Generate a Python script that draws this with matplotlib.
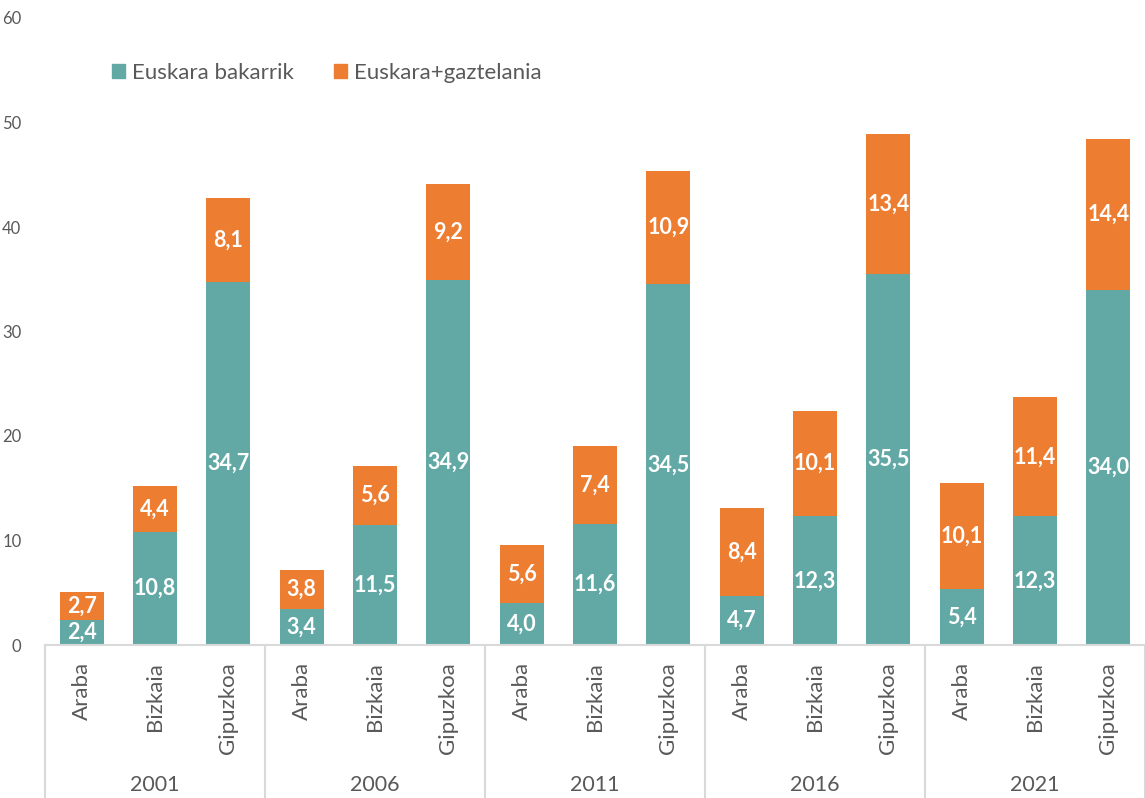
import matplotlib
matplotlib.use("Agg")
import matplotlib.pyplot as plt
from matplotlib.lines import Line2D
from matplotlib.patches import Patch
import numpy as np

plt.rcParams['font.family'] = ['Lato', 'DejaVu Sans']

years = ['2001', '2006', '2011', '2016', '2021']
regions = ['Araba', 'Bizkaia', 'Gipuzkoa']
euskara_bakarrik = [2.4, 10.8, 34.7, 3.4, 11.5, 34.9, 4.0, 11.6, 34.5, 4.7, 12.3, 35.5, 5.4, 12.3, 34.0]
euskara_gaztelania = [2.7, 4.4, 8.1, 3.8, 5.6, 9.2, 5.6, 7.4, 10.9, 8.4, 10.1, 13.4, 10.1, 11.4, 14.4]
series_names = ['Euskara bakarrik', 'Euskara+gaztelania']
yticks = [0, 10, 20, 30, 40, 50, 60]

teal = '#62A9A6'
orange = '#ED7D31'
grey = '#595959'
linec = '#D9D9D9'

W, H = 1145, 798
fig = plt.figure(figsize=(W/100, H/100), dpi=100)
ax = fig.add_axes([45/W, (H-645)/H, 1100/W, (645-18)/H])

x = np.arange(len(euskara_bakarrik))
ax.bar(x, euskara_bakarrik, width=0.6, color=teal, label=series_names[0])
ax.bar(x, euskara_gaztelania, width=0.6, bottom=euskara_bakarrik, color=orange, label=series_names[1])

fmt = lambda v: f"{v:.1f}".replace('.', ',')
for xi, a, b in zip(x, euskara_bakarrik, euskara_gaztelania):
    ax.text(xi, a/2, fmt(a), ha='center', va='center', color='white', fontsize=15.5, fontweight='bold')
    ax.text(xi, a + b/2, fmt(b), ha='center', va='center', color='white', fontsize=15.5, fontweight='bold')

ax.set_xlim(-0.5, len(x)-0.5)
ax.set_ylim(0, 60)
ax.set_yticks(yticks)
ax.set_yticklabels([str(t) for t in yticks], color=grey, fontsize=12)
ax.tick_params(axis='y', length=0, pad=17)
ax.set_xticks([])
for s in ['top', 'right', 'left']:
    ax.spines[s].set_visible(False)
ax.spines['bottom'].set_color(linec)
ax.spines['bottom'].set_linewidth(1.5)

trans = ax.get_xaxis_transform()
n = len(regions)
for gi, yr in enumerate(years):
    for ri, rg in enumerate(regions):
        xi = gi*n + ri
        ax.text(xi, -17/627, rg, rotation=90, ha='center', va='top', color=grey, fontsize=16, transform=trans)
    ax.text(gi*n + 1, -140/627, yr, ha='center', va='center', color=grey, fontsize=15.5, transform=trans)
for gi in range(len(years)+1):
    xb = gi*n - 0.5
    ax.add_line(Line2D([xb, xb], [0, -160/627], transform=trans, color=linec, lw=1.5, clip_on=False))

handles = [Patch(color=teal), Patch(color=orange)]
fig.legend(handles, series_names, loc='center left', bbox_to_anchor=(92/W, 1-73/H), ncol=2, frameon=False,
           fontsize=16, labelcolor=grey, handlelength=0.6, handleheight=0.6, handletextpad=0.3, columnspacing=1.8)

fig.savefig('out.png', dpi=100)
